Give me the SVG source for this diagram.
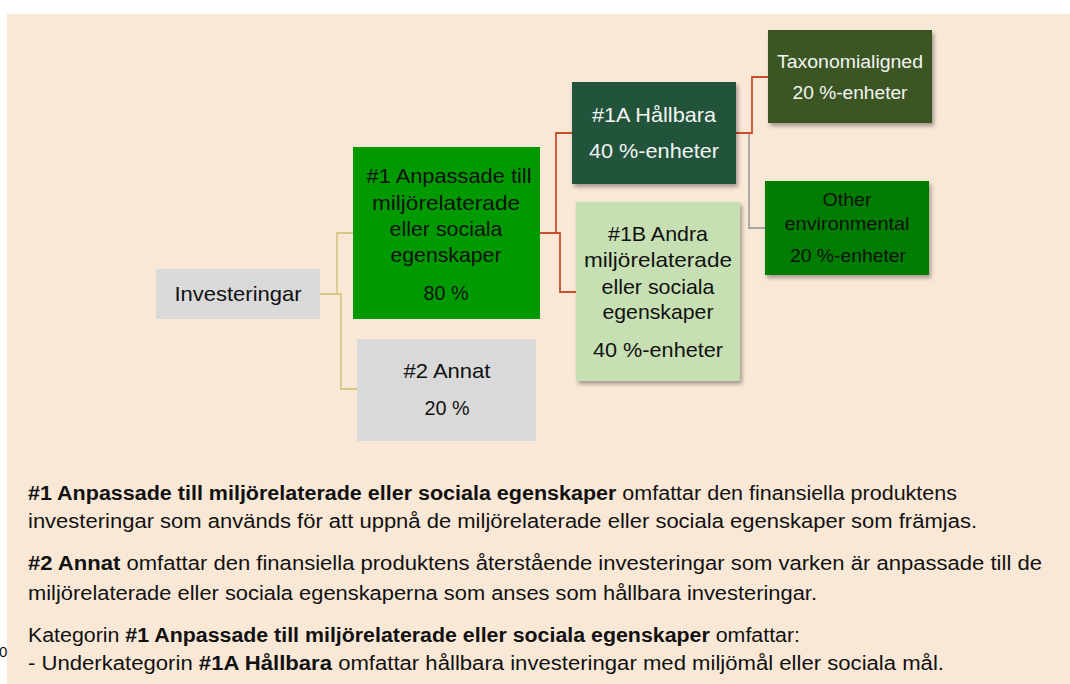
<svg xmlns="http://www.w3.org/2000/svg" width="1070" height="684" viewBox="0 0 1070 684">
<defs>
<style>
.t{font-family:"Liberation Sans",Arial,sans-serif;font-size:21px;fill:#111;text-anchor:middle}
.s{font-size:18px}
.w{fill:#F4F4F4}
.b{font-family:"Liberation Sans",Arial,sans-serif;font-size:20px;fill:#111}
.bold{font-weight:bold}
.c{fill:none;stroke-width:1.8}
</style>
<filter id="sh" x="-10%" y="-10%" width="130%" height="140%">
<feDropShadow dx="2" dy="3" stdDeviation="2" flood-color="#000" flood-opacity="0.35"/>
</filter>
</defs>
<rect x="0" y="0" width="1070" height="684" fill="#FFFFFF"/>
<rect x="7" y="14" width="1063" height="670" fill="#FAE8D7"/>
<text x="-1" y="657" font-family="Liberation Sans,Arial,sans-serif" font-size="15" fill="#111">0</text>

<g id="connectors">
<polyline class="c" stroke="#D5C887" points="320,294 337,294 337,233 353,233"/>
<polyline class="c" stroke="#D5C887" points="320,294 341,294 341,389 357,389"/>
<polyline class="c" stroke="#C9502F" points="540,233 556,233 556,133 572,133"/>
<polyline class="c" stroke="#C9502F" points="540,233 560,233 560,292 576,292"/>
<polyline class="c" stroke="#A6A6A6" points="736,133 749,133 749,228 765,228"/>
<polyline class="c" stroke="#C9502F" points="736,133 752,133 752,77 768,77"/>
</g>

<g id="n-investeringar">
<rect x="156" y="269" width="164" height="50" fill="#D9D9D9"/>
<text class="t" x="238" y="301" textLength="127" lengthAdjust="spacingAndGlyphs">Investeringar</text>
</g>

<g id="n-1">
<rect x="353" y="147" width="187" height="172" fill="#009A00"/>
<text class="t" x="449" y="183" textLength="165" lengthAdjust="spacingAndGlyphs">#1 Anpassade till</text>
<text class="t" x="446" y="210" textLength="148" lengthAdjust="spacingAndGlyphs">miljörelaterade</text>
<text class="t" x="446" y="236" textLength="113" lengthAdjust="spacingAndGlyphs">eller sociala</text>
<text class="t" x="446" y="262" textLength="111" lengthAdjust="spacingAndGlyphs">egenskaper</text>
<text class="t" x="446" y="300" textLength="45" lengthAdjust="spacingAndGlyphs">80 %</text>
</g>

<g id="n-2">
<rect x="357" y="339" width="179" height="102" fill="#D9D9D9"/>
<text class="t" x="447" y="378" textLength="87" lengthAdjust="spacingAndGlyphs">#2 Annat</text>
<text class="t" x="447" y="415" textLength="45" lengthAdjust="spacingAndGlyphs">20 %</text>
</g>

<g id="n-1a">
<rect x="572" y="82" width="164" height="102" fill="#24533A" filter="url(#sh)"/>
<text class="t w" x="654" y="122" textLength="124" lengthAdjust="spacingAndGlyphs">#1A Hållbara</text>
<text class="t w" x="654" y="158" textLength="130" lengthAdjust="spacingAndGlyphs">40 %-enheter</text>
</g>

<g id="n-1b">
<rect x="576" y="202" width="164" height="179" fill="#C6E0B4" filter="url(#sh)"/>
<text class="t" x="658" y="241" textLength="100" lengthAdjust="spacingAndGlyphs">#1B Andra</text>
<text class="t" x="658" y="267" textLength="148" lengthAdjust="spacingAndGlyphs">miljörelaterade</text>
<text class="t" x="658" y="294" textLength="113" lengthAdjust="spacingAndGlyphs">eller sociala</text>
<text class="t" x="658" y="319" textLength="111" lengthAdjust="spacingAndGlyphs">egenskaper</text>
<text class="t" x="658" y="357" textLength="130" lengthAdjust="spacingAndGlyphs">40 %-enheter</text>
</g>

<g id="n-taxonomi">
<rect x="768" y="30" width="164" height="93" fill="#3A5724" filter="url(#sh)"/>
<text class="t s w" x="850" y="68" textLength="146" lengthAdjust="spacingAndGlyphs">Taxonomialigned</text>
<text class="t s w" x="850" y="99" textLength="115" lengthAdjust="spacingAndGlyphs">20 %-enheter</text>
</g>

<g id="n-other">
<rect x="765" y="181" width="164" height="94" fill="#007D00" filter="url(#sh)"/>
<text class="t s" x="847" y="206" textLength="49" lengthAdjust="spacingAndGlyphs">Other</text>
<text class="t s" x="847" y="230" textLength="125" lengthAdjust="spacingAndGlyphs">environmental</text>
<text class="t s" x="848" y="262" textLength="116" lengthAdjust="spacingAndGlyphs">20 %-enheter</text>
</g>

<g id="description">
<text class="b" x="28" y="500" textLength="929" lengthAdjust="spacingAndGlyphs"><tspan class="bold">#1 Anpassade till miljörelaterade eller sociala egenskaper</tspan> omfattar den finansiella produktens</text>
<text class="b" x="28" y="528" textLength="949" lengthAdjust="spacingAndGlyphs">investeringar som används för att uppnå de miljörelaterade eller sociala egenskaper som främjas.</text>
<text class="b" x="28" y="570" textLength="1014" lengthAdjust="spacingAndGlyphs"><tspan class="bold">#2 Annat</tspan> omfattar den finansiella produktens återstående investeringar som varken är anpassade till de</text>
<text class="b" x="28" y="600" textLength="789" lengthAdjust="spacingAndGlyphs">miljörelaterade eller sociala egenskaperna som anses som hållbara investeringar.</text>
<text class="b" x="28" y="642" textLength="772" lengthAdjust="spacingAndGlyphs">Kategorin <tspan class="bold">#1 Anpassade till miljörelaterade eller sociala egenskaper</tspan> omfattar:</text>
<text class="b" x="28" y="670" textLength="916" lengthAdjust="spacingAndGlyphs">- Underkategorin <tspan class="bold">#1A Hållbara</tspan> omfattar hållbara investeringar med miljömål eller sociala mål.</text>
</g>
</svg>
